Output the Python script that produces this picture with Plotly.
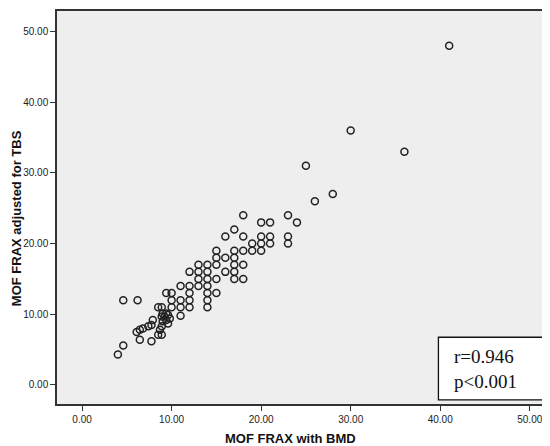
import plotly.graph_objects as go

# MOF FRAX with BMD (x) and MOF FRAX adjusted for TBS (y)
x_bmd = [
    41, 30, 36, 25, 26, 28,
    18, 23,
    20, 21, 24,
    17,
    16, 18, 20, 21, 23,
    19, 20, 21, 23,
    15, 17, 18, 19, 20,
    15, 16, 17,
    13, 14, 15, 17, 18,
    12, 13, 14, 16, 17,
    13, 14, 15, 17, 18,
    11, 12, 13, 14,
    9.4, 10, 12, 14, 15,
    4.6, 6.2, 10, 11, 12, 14,
    8.5, 8.9, 10, 11, 12, 14,
    11,
    9.0, 9.4, 8.9, 9.2, 9.6, 9.8, 9.0, 9.4, 9.6,
    7.9, 7.75, 7.4, 8.9, 8.7, 8.5, 8.9,
    6.8, 6.45, 6.1, 6.45, 7.75, 4.6, 4.0,
]
y_tbs = [
    48, 36, 33, 31, 26, 27,
    24, 24,
    23, 23, 23,
    22,
    21, 21, 21, 21, 21,
    20, 20, 20, 20,
    19, 19, 19, 19, 19,
    18, 18, 18,
    17, 17, 17, 17, 17,
    16, 16, 16, 16, 16,
    15, 15, 15, 15, 15,
    14, 14, 14, 14,
    13, 13, 13, 13, 13,
    12, 12, 12, 12, 12, 12,
    11, 11, 11, 11, 11, 11,
    9.8,
    10.1, 10.1, 9.7, 9.7, 9.9, 9.4, 9.0, 9.2, 8.7,
    9.2, 8.5, 8.3, 8.3, 7.8, 7.1, 7.1,
    8.0, 7.8, 7.5, 6.4, 6.2, 5.6, 4.3,
]
x_ticks = [0, 10, 20, 30, 40, 50]
y_ticks = [0, 10, 20, 30, 40, 50]
stat_text = "r=0.946<br>p<0.001"
x_title = "MOF FRAX with BMD"
y_title = "MOF FRAX adjusted for TBS"

fig = go.Figure()
fig.add_trace(go.Scatter(
    x=x_bmd, y=y_tbs, mode="markers",
    marker=dict(symbol="circle-open", size=7, color="#222222",
                line=dict(width=1.5, color="#222222")),
    showlegend=False, cliponaxis=False,
))

axis_font = dict(family="Liberation Sans, Arial, sans-serif", size=10, color="#222222")

fig.update_layout(
    width=542, height=438,
    margin=dict(l=49, r=0, t=3, b=42),
    paper_bgcolor="white",
    plot_bgcolor="#EEEEEE",
    xaxis=dict(
        range=[-2.8, 52.26], tickvals=x_ticks,
        ticktext=[f"{v:.2f}" for v in x_ticks],
        showgrid=False, zeroline=False,
        showline=True, mirror=True, linecolor="#333333", linewidth=1.5,
        ticks="outside", ticklen=5, tickcolor="#333333", tickwidth=1.3,
        tickfont=axis_font,
    ),
    yaxis=dict(
        range=[-2.69, 52.9], tickvals=y_ticks,
        ticktext=[f"{v:.2f}" for v in y_ticks],
        showgrid=False, zeroline=False,
        showline=True, linecolor="#333333", linewidth=1.5,
        ticks="outside", ticklen=5, tickcolor="#333333", tickwidth=1.3,
        tickfont=axis_font,
    ),
)

# statistics box
fig.add_shape(type="rect", xref="x", yref="y",
              x0=39.8, x1=56, y0=-2.1, y1=6.75,
              line=dict(color="#111111", width=1.3), fillcolor="white", layer="above")
fig.add_annotation(
    xref="x", yref="y", x=41.27, y=2.3, text=stat_text, showarrow=False,
    xanchor="left", yanchor="middle", align="left",
    font=dict(family="Liberation Serif, Times New Roman, serif", size=19, color="#111111"),
)

# axis titles
fig.add_annotation(
    xref="x", yref="paper", x=23.3, y=0, yshift=-34, text=x_title, showarrow=False,
    xanchor="center", yanchor="middle",
    font=dict(family="Liberation Sans, Arial, sans-serif", size=13, color="#111111", weight="bold"),
)
fig.add_annotation(
    xref="paper", yref="y", x=0, xshift=-41, y=23.6, text=y_title, showarrow=False,
    textangle=-90, xanchor="center", yanchor="middle",
    font=dict(family="Liberation Sans, Arial, sans-serif", size=13, color="#111111", weight="bold"),
)

fig.write_html("out.html")
